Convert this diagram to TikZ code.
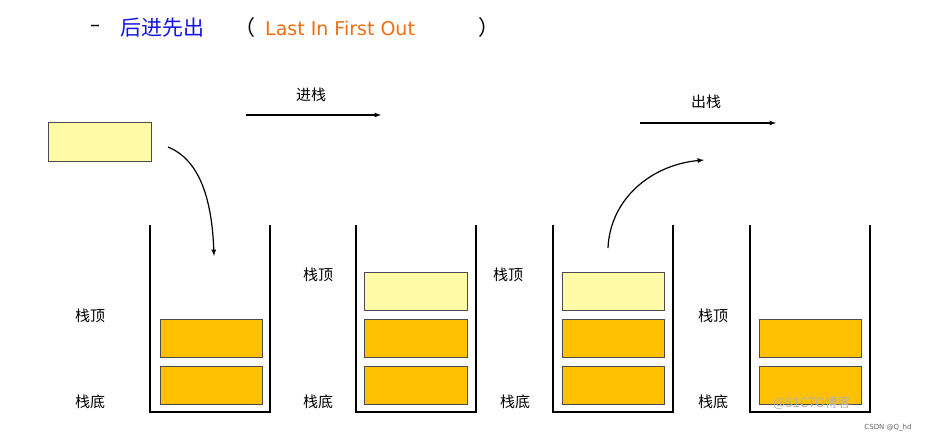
\documentclass[tikz,border=0pt]{standalone}
\usepackage{fontspec}
\setmainfont{DejaVu Sans}
\newfontfamily\cjk{Noto Sans CJK SC}
\begin{document}
\begin{tikzpicture}[x=1pt,y=-1pt,
  lbl/.style={font=\cjk\fontsize{15}{15}\selectfont},
  ybox/.style={draw=black!70,fill=yellow!35,line width=0.8pt},
  obox/.style={draw=black!70,fill={rgb,255:red,255;green,192;blue,0},line width=0.8pt},
  wall/.style={line width=2.4pt},
  arr/.style={-latex,line width=1.2pt}]
\useasboundingbox[fill=white] (0,0) rectangle (935,442);
% title
\node[anchor=west,inner sep=0] (t1) at (90,28) {\fontsize{20}{20}\selectfont –};
\node[anchor=west,inner sep=0,text={rgb,255:red,20;green,20;blue,230}] (t2) at (120,28) {\cjk\fontsize{21}{21}\selectfont 后进先出};
\node[anchor=west,inner sep=0] (t3) at (234,28) {\cjk\fontsize{21}{21}\selectfont （};
\node[anchor=west,inner sep=0,text={rgb,255:red,240;green,110;blue,20}] (t4) at (265,28) {\fontsize{19}{19}\selectfont Last In First Out};
\node[anchor=west,inner sep=0] (t5) at (478,28) {\cjk\fontsize{21}{21}\selectfont ）};
% stacks
\foreach \x in {150,356,553,750}{
  \draw[wall] (\x,225) -- (\x,412) -- (\x+120,412) -- (\x+120,225);
}
\node[obox,minimum width=102,minimum height=38,inner sep=0] (a1) at (211,338.5) {};
\node[obox,minimum width=102,minimum height=38,inner sep=0] (a2) at (211,385) {};
\node[ybox,minimum width=103,minimum height=38,inner sep=0] (b0) at (415.5,291) {};
\node[obox,minimum width=103,minimum height=38,inner sep=0] (b1) at (415.5,338.5) {};
\node[obox,minimum width=103,minimum height=38,inner sep=0] (b2) at (415.5,385) {};
\node[ybox,minimum width=102,minimum height=38,inner sep=0] (c0) at (613,291) {};
\node[obox,minimum width=102,minimum height=38,inner sep=0] (c1) at (613,338.5) {};
\node[obox,minimum width=102,minimum height=38,inner sep=0] (c2) at (613,385) {};
\node[obox,minimum width=102,minimum height=38,inner sep=0] (d1) at (810,338.5) {};
\node[obox,minimum width=102,minimum height=38,inner sep=0] (d2) at (810,385) {};
\node[ybox,minimum width=103,minimum height=39,inner sep=0] (new) at (99.5,141.5) {};
% labels
\node[lbl] (l1) at (90,316) {栈顶};
\node[lbl] (l2) at (90,402) {栈底};
\node[lbl] (l3) at (318,275) {栈顶};
\node[lbl] (l4) at (318,402) {栈底};
\node[lbl] (l5) at (508,275) {栈顶};
\node[lbl] (l6) at (515,402) {栈底};
\node[lbl] (l7) at (713,316) {栈顶};
\node[lbl] (l8) at (713,402) {栈底};
% arrows
\coordinate (p1) at (168,147); \coordinate (p2) at (214,256);
\draw[arr] (p1) .. controls (200,160) and (212,200) .. (p2);
\coordinate (q1) at (608,248); \coordinate (q2) at (704,160);
\draw[arr] (q1) .. controls (610,200) and (650,165) .. (q2);
\coordinate (r1) at (246,115); \coordinate (r2) at (381,115);
\draw[arr] (r1) -- (r2);
\node[lbl] (in) at (311,95) {进栈};
\coordinate (s1) at (640,123); \coordinate (s2) at (776,123);
\draw[arr] (s1) -- (s2);
\node[lbl] (out) at (706,102) {出栈};
% watermarks
\node[text=black!30,font=\cjk\fontsize{13}{13}\selectfont] (w1) at (812,403) {@51CTO博客};
\node[text=black!60,font=\fontsize{7}{7}\selectfont] (w2) at (888,428) {CSDN @Q\_hd};
\end{tikzpicture}
\end{document}
